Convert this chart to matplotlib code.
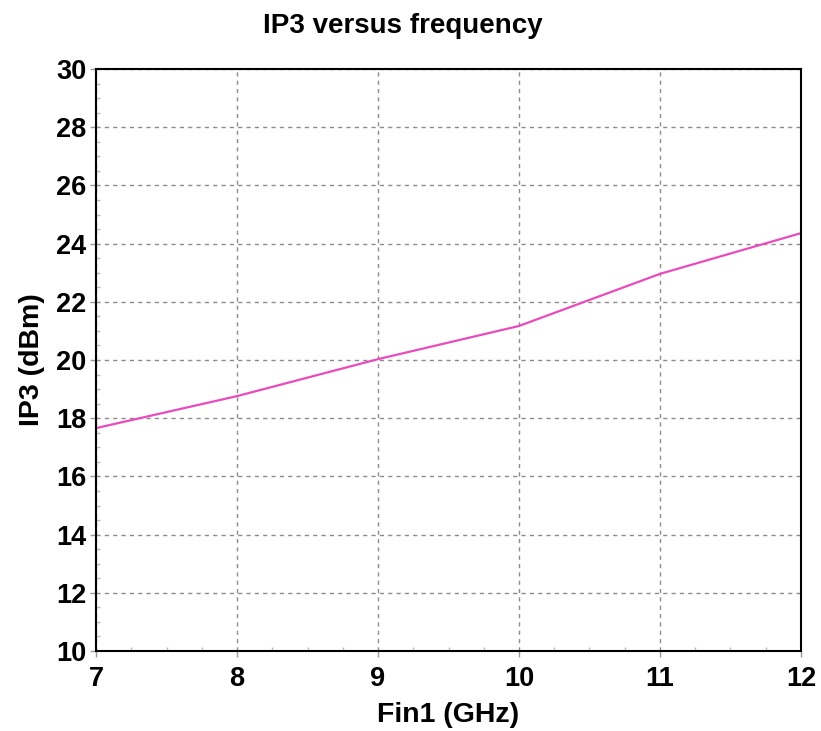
import numpy as np
import matplotlib.pyplot as plt
from matplotlib.ticker import MultipleLocator

# IP3 versus frequency
freq = [7, 8, 9, 10, 11, 12]
ip3 = [17.66, 18.76, 20.03, 21.17, 22.96, 24.36]

plt.rcParams['font.family'] = ['Liberation Sans', 'DejaVu Sans']
plt.rcParams['font.weight'] = 'bold'

fig = plt.figure(figsize=(8.21, 7.31), dpi=100)
ax = fig.add_axes([0.117, 0.1094, 0.8586, 0.7962])

ax.plot(freq, ip3, color='#e94bbd', lw=1.6)

ax.set_xlim(7, 12)
ax.set_ylim(10, 30)
ax.xaxis.set_major_locator(MultipleLocator(1))
ax.yaxis.set_major_locator(MultipleLocator(2))
ax.xaxis.set_minor_locator(MultipleLocator(0.25))
ax.yaxis.set_minor_locator(MultipleLocator(0.5))
ax.grid(True, which='major', color='#8c8c8c', ls=(0, (3, 3)), lw=1)
ax.tick_params(which='major', direction='out', length=4, width=1, color='#999999',
               labelsize=19.5, pad=3)
ax.tick_params(axis='x', which='major', pad=7)
ax.tick_params(which='minor', direction='in', length=3, width=1, color='#bbbbbb',
               top=False, right=False)
for lab in ax.get_xticklabels() + ax.get_yticklabels():
    lab.set_fontweight('bold')
for s in ax.spines.values():
    s.set_linewidth(1.5)
    s.set_color('black')

ax.set_xlabel('Fin1 (GHz)', fontsize=20.5, fontweight='bold', labelpad=7)
ax.set_ylabel('IP3 (dBm)', fontsize=20.5, fontweight='bold', labelpad=8)
fig.text(0.491, 0.965, 'IP3 versus frequency', ha='center', va='center',
         fontsize=20, fontweight='bold')

fig.savefig('out.png', dpi=100)
